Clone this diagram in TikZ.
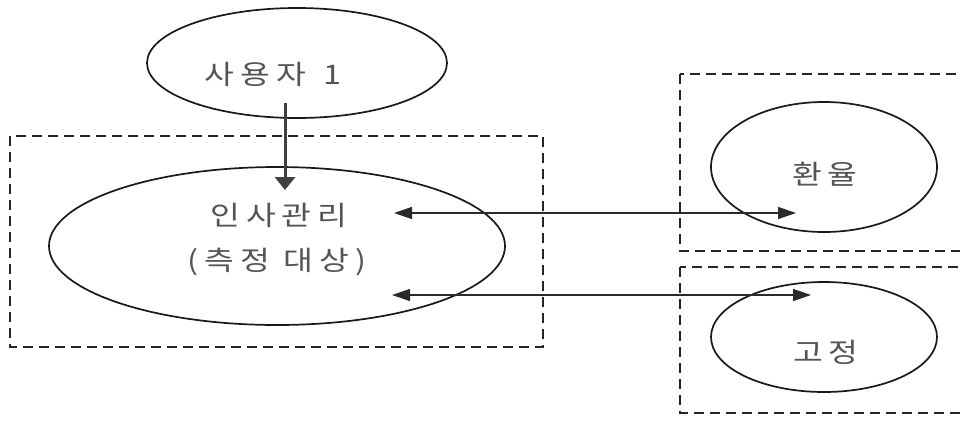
\documentclass[tikz,border=0pt]{standalone}
\usepackage{fontspec}
\newfontfamily\kr[LetterSpace=22,FakeStretch=1.2]{Noto Sans CJK KR}
\usetikzlibrary{shapes.geometric,arrows.meta}
\definecolor{txt}{HTML}{555555}
\definecolor{arr}{HTML}{2a2a2a}
\tikzset{
  oval/.style={draw=black!90, line width=1.7pt, ellipse, inner sep=0pt},
  dbox/.style={draw=black!85, line width=1.8pt, dash pattern=on 10pt off 6pt},
  lbl/.style={text=txt, font=\fontsize{27}{30}\selectfont\kr, inner sep=0pt},
  conn/.style={draw=arr, line width=1.4pt, {Triangle[length=18pt,width=12pt]}-{Triangle[length=18pt,width=12pt]}},
  down/.style={draw=black!75, line width=3pt, -{Triangle[length=13pt,width=20pt]}},
}
\begin{document}
\begin{tikzpicture}[x=1pt,y=-1pt]
\clip (0,0) rectangle (960,424);
\fill[white] (0,0) rectangle (960,424);
% dashed boxes
\draw[dbox] (10,136) rectangle (543,347);
\draw[dbox] (680,74) rectangle (985,251);
\draw[dbox] (680,267) rectangle (985,413);
% ellipses
\node[oval, minimum width=300pt, minimum height=110pt] (user) at (297,63) {};
\node[oval, minimum width=456pt, minimum height=158pt] (hr) at (277,246) {};
\node[oval, minimum width=226pt, minimum height=130pt] (fx) at (824,167) {};
\node[oval, minimum width=226pt, minimum height=110pt] (fix) at (824,337) {};
% labels
\node[lbl] (tuser) at (273,74) {사용자\hspace{4pt} 1};
\node[lbl] (thr1) at (279,215) {인사관리};
\node[lbl] (thr2) at (277,262) {(측정 대상)};
\node[lbl] (tfx) at (825,174) {환율};
\node[lbl] (tfix) at (826,352) {고정};
% connector ends
\coordinate (ua) at (285,103);
\coordinate (ub) at (285,190);
\coordinate (a1) at (394,213);
\coordinate (a2) at (796,213);
\coordinate (b1) at (392,295);
\coordinate (b2) at (811,295);
\draw[down] (ua) -- (ub);
\draw[conn] (a1) -- (a2);
\draw[conn] (b1) -- (b2);
\end{tikzpicture}
\end{document}
